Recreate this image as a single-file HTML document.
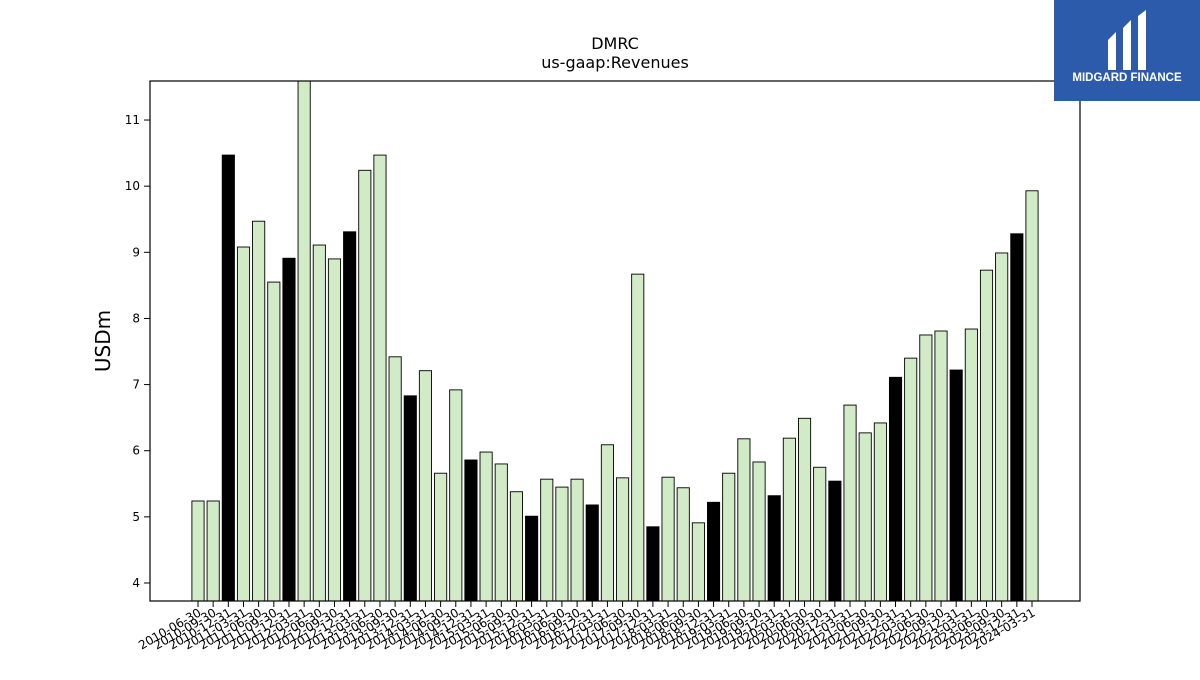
<!DOCTYPE html>
<html><head><meta charset="utf-8"><style>
body{margin:0;background:#fff;font-family:"Liberation Sans","DejaVu Sans",sans-serif}
</style></head><body>
<svg id="chart" width="1200" height="675" xmlns="http://www.w3.org/2000/svg" font-family="DejaVu Sans, Liberation Sans, sans-serif">
<rect width="1200" height="675" fill="#fff"/>
<text x="615" y="49" text-anchor="middle" font-size="16">DMRC</text>
<text x="615" y="68" text-anchor="middle" font-size="16">us-gaap:Revenues</text>
<text transform="translate(110,341) rotate(-90)" text-anchor="middle" font-size="20">USDm</text>
<g id="bars"></g><g id="yticks"></g><g id="xticks"></g>
<rect x="150" y="81" width="930" height="520" fill="none" stroke="#000" stroke-width="1.2"/>
<g>
<rect x="1054" y="0" width="146" height="101" fill="#2d5bab"/>
<path d="M1108 40 L1116 32 L1116 70 L1108 70 Z M1123 28 L1131 20 L1131 70 L1123 70 Z M1138 16 L1146 10 L1146 70 L1138 70 Z" fill="#fff"/>
<text x="1127" y="81" text-anchor="middle" font-size="11.5" font-weight="bold" fill="#fff" font-family="Liberation Sans, sans-serif">MIDGARD FINANCE</text>
</g>
</svg>
<script>
const categories=["2010-06-30","2010-09-30","2010-12-31","2011-03-31","2011-06-30","2011-09-30","2011-12-31","2012-03-31","2012-06-30","2012-09-30","2012-12-31","2013-03-31","2013-06-30","2013-09-30","2013-12-31","2014-03-31","2014-06-30","2014-09-30","2014-12-31","2015-03-31","2015-06-30","2015-09-30","2015-12-31","2016-03-31","2016-06-30","2016-09-30","2016-12-31","2017-03-31","2017-06-30","2017-09-30","2017-12-31","2018-03-31","2018-06-30","2018-09-30","2018-12-31","2019-03-31","2019-06-30","2019-09-30","2019-12-31","2020-03-31","2020-06-30","2020-09-30","2020-12-31","2021-03-31","2021-06-30","2021-09-30","2021-12-31","2022-03-31","2022-06-30","2022-09-30","2022-12-31","2023-03-31","2023-06-30","2023-09-30","2023-12-31","2024-03-31"];
const revenues=[5.24,5.24,10.47,9.08,9.47,8.55,8.91,11.7,9.11,8.90,9.31,10.24,10.47,7.42,6.83,7.21,5.66,6.92,5.86,5.98,5.80,5.38,5.01,5.57,5.45,5.57,5.18,6.09,5.59,8.67,4.85,5.60,5.44,4.91,5.22,5.66,6.18,5.83,5.32,6.19,6.49,5.75,5.54,6.69,6.27,6.42,7.11,7.40,7.75,7.81,7.22,7.84,8.73,8.99,9.28,9.93];
const yTicks=[4,5,6,7,8,9,10,11];
const NS="http://www.w3.org/2000/svg";
const yMin=3.728,yMax=11.59,plotTop=81,plotBot=601,plotLeft=150,plotRight=1080;
const yScale=v=>plotBot-(v-yMin)/(yMax-yMin)*(plotBot-plotTop);
const xStep=(1032-198)/55;
const xScale=i=>198+i*xStep;
const bw=12.2;
const gb=document.getElementById('bars'),gy=document.getElementById('yticks'),gx=document.getElementById('xticks');
revenues.forEach((v,i)=>{
 const r=document.createElementNS(NS,'rect');
 const yy=Math.max(yScale(v),plotTop);
 r.setAttribute('x',xScale(i)-bw/2);r.setAttribute('y',yy);r.setAttribute('width',bw);r.setAttribute('height',plotBot-yy);
 r.setAttribute('fill',categories[i].endsWith('12-31')?'#000':'#d0ebc6');r.setAttribute('stroke','#000');r.setAttribute('stroke-width','0.9');
 
 
 gb.appendChild(r);
 const t=document.createElementNS(NS,'line');
 t.setAttribute('x1',xScale(i));t.setAttribute('x2',xScale(i));t.setAttribute('y1',plotBot);t.setAttribute('y2',plotBot+6);t.setAttribute('stroke','#000');
 
 
 gx.appendChild(t);
 const l=document.createElementNS(NS,'text');
 l.setAttribute('transform',`translate(${xScale(i)+4},${plotBot+14}) rotate(-30)`);l.setAttribute('text-anchor','end');l.setAttribute('font-size','12');
 l.textContent=categories[i];
 
 
 gx.appendChild(l);
});
yTicks.forEach(v=>{
 const t=document.createElementNS(NS,'line');
 t.setAttribute('x1',plotLeft-6);t.setAttribute('x2',plotLeft);t.setAttribute('y1',yScale(v));t.setAttribute('y2',yScale(v));t.setAttribute('stroke','#000');
 
 
 gy.appendChild(t);
 const l=document.createElementNS(NS,'text');
 l.setAttribute('x',plotLeft-10);l.setAttribute('y',yScale(v)+4);l.setAttribute('text-anchor','end');l.setAttribute('font-size','12');
 l.textContent=v;
 
 
 gy.appendChild(l);
});
</script>
</body></html>
